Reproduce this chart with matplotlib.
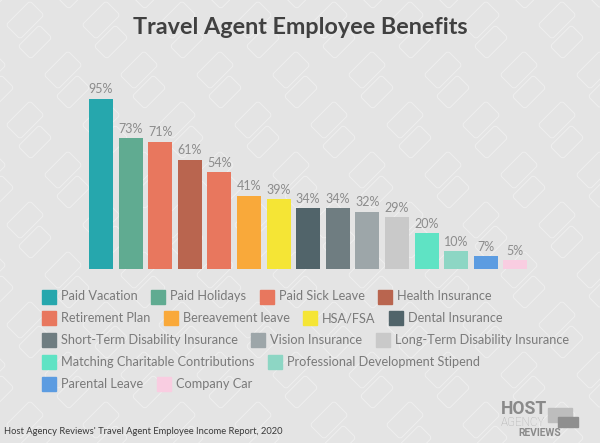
import matplotlib
matplotlib.use("Agg")
import matplotlib.pyplot as plt
from matplotlib.patches import Rectangle, FancyBboxPatch
from matplotlib.transforms import Affine2D
import numpy as np

categories = ["Paid Vacation", "Paid Holidays", "Paid Sick Leave", "Health Insurance",
              "Retirement Plan", "Bereavement leave", "HSA/FSA", "Dental Insurance",
              "Short-Term Disability Insurance", "Vision Insurance",
              "Long-Term Disability Insurance", "Matching Charitable Contributions",
              "Professional Development Stipend", "Parental Leave", "Company Car"]
values = [95, 73, 71, 61, 54, 41, 39, 34, 34, 32, 29, 20, 10, 7, 5]
colors = ["#26A7AD", "#60AB91", "#E8775E", "#B9654F", "#E8775E", "#F9A93A", "#F5E535",
          "#51646A", "#6F7D81", "#9DA6A9", "#C9C9C9", "#5FE3C4", "#8DD6C4", "#5C9CE1",
          "#F9CDE1"]
title = "Travel Agent Employee Benefits"
source = "Host Agency Reviews' Travel Agent Employee Income Report, 2020"

W, H = 600, 443
BG = "#E4E4E4"
fig = plt.figure(figsize=(W / 100, H / 100), dpi=100, facecolor=BG)

# background pattern of rotated rounded rectangles (pixel coords, y down)
bgax = fig.add_axes([0, 0, 1, 1], zorder=-10)
bgax.set_xlim(0, W); bgax.set_ylim(H, 0); bgax.axis("off")
def rrect(cx, cy, L=34, S=20):
    p = FancyBboxPatch((cx - L / 2, cy - S / 2), L, S, boxstyle="round,pad=0,rounding_size=3",
                       fill=False, ec="white", lw=0.7, alpha=0.4)
    p.set_transform(Affine2D().rotate_deg_around(cx, cy, -45) + bgax.transData)
    bgax.add_patch(p)
for row in range(-1, 10):
    for col in range(-1, 9):
        cx = col * 76 + (row % 2) * 38 + 25
        cy = row * 50 + 20
        rrect(cx, cy)
        rrect(cx + 10, cy + 22, L=30, S=18)

# main bars axes: x px 86..530, y px 90..269 (0..100)
ax = fig.add_axes([86.2 / W, 1 - 269 / H, (530.2 - 86.2) / W, (269 - 90) / H])
ax.set_facecolor("none")
x = np.arange(len(values))
ax.bar(x, values, width=0.81, color=colors, zorder=2)
for xi, v in zip(x, values):
    ax.annotate(f"{v}%", (xi, v), xytext=(0, 2.5), textcoords="offset points",
                ha="center", va="bottom", fontsize=9, color="#8C8C8C", family="Lato")
ax.set_xlim(-0.5, len(values) - 0.5)
ax.set_ylim(0, 100)
ax.axis("off")

fig.canvas.draw()
renderer = fig.canvas.get_renderer()

def fit(t, width):
    w = t.get_window_extent(renderer).width
    t.set_fontsize(t.get_fontsize() * width / w)

# title, sized to span the reference width
tt = fig.text(0.5, 1 - 27 / H, title, ha="center", va="center", fontsize=16,
              fontweight="bold", color="#404040", family="Lato")
fit(tt, 337)

# flowing legend
lx0, ly0, maxx = 42, 296.5, 585
rowh = 21.75
lx, ly = lx0, ly0
sq = 14
for cat, col in zip(categories, colors):
    t = fig.text(0, 0, cat, fontsize=9.2, color="#7A7A7A", family="Lato", va="center")
    tw = t.get_window_extent(renderer).width
    itemw = sq + 5 + tw
    if lx + itemw > maxx and lx > lx0:
        lx = lx0
        ly += rowh
    fig.patches.append(Rectangle((lx / W, 1 - (ly + sq / 2) / H), sq / W, sq / H,
                                 transform=fig.transFigure, color=col))
    t.set_position(((lx + sq + 5) / W, 1 - ly / H))
    lx += itemw + 13.5

st = fig.text(4 / W, 1 - 431 / H, source, fontsize=7, color="#3A3A3A",
              family="Lato", va="center")
fit(st, 278)

# logo
fig.patches.append(FancyBboxPatch((548 / W, 1 - 422 / H), 24 / W, 14 / H,
                                  boxstyle="square,pad=0", transform=fig.transFigure,
                                  color="#BDBDBD", zorder=1))
fig.patches.append(FancyBboxPatch((558 / W, 1 - 427 / H), 20 / W, 10 / H,
                                  boxstyle="square,pad=0", transform=fig.transFigure,
                                  color="#8F8F8F", zorder=2))
h1 = fig.text(501 / W, 1 - 414 / H, "HOST", fontsize=10, fontweight="bold", color="#8A8A8A",
              family="Roboto", va="baseline", ha="left")
fit(h1, 46)
h2 = fig.text(501 / W, 1 - 426.5 / H, "AGENCY", fontsize=8, fontweight="light", color="#AFAFAF",
              family="Roboto", va="baseline", ha="left")
fit(h2, 44)
h3 = fig.text(518 / W, 1 - 436 / H, "REVIEWS", fontsize=7, fontweight="bold", color="#8A8A8A",
              family="Roboto", va="baseline", ha="left")
fit(h3, 43)

fig.savefig("out.png", dpi=100, facecolor=BG)
